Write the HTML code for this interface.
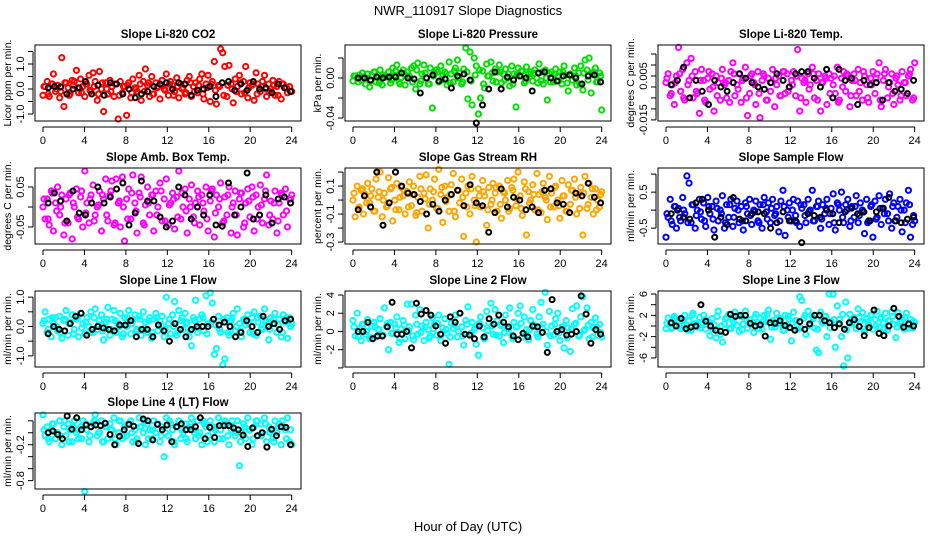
<!DOCTYPE html>
<html><head><meta charset="utf-8">
<style>
html,body{margin:0;padding:0;background:#fff;}
svg{display:block;font-family:"Liberation Sans",Arial,sans-serif;}
</style></head>
<body>
<svg id="fig" width="936" height="540" viewBox="0 0 936 540" xmlns="http://www.w3.org/2000/svg">
<rect width="936" height="540" fill="#fff"/>
<text x="468" y="15" text-anchor="middle" font-size="13">NWR_110917  Slope Diagnostics</text>
<text x="468" y="531" text-anchor="middle" font-size="13">Hour of Day (UTC)</text>
</svg>
<script>
const xTickVals=[0,4,8,12,16,20,24];

const co2Vals=[-0.25,0.1,0.3,-0.3,0.2,0.6,-0.1,0.15,-0.35,1.25,-0.7,0.25,0.05,-0.2,0.35,0.3,0.75,-0.15,0.4,0.1,-0.3,0.2,0.55,-0.1,0.65,0.3,-0.45,0.7,0.0,-0.9,0.25,-0.2,0.35,0.1,-0.3,0.2,-1.2,0.3,-0.15,0.1,-1.05,0.25,-0.35,0.4,0.05,-0.1,0.55,-0.45,0.3,0.8,0.15,-0.3,0.5,-0.2,0.25,0.1,-0.4,0.35,0.0,0.6,-0.25,0.3,0.15,-0.1,0.45,-0.35,0.2,0.05,-0.2,0.35,0.5,-0.3,0.1,0.25,-0.15,0.4,0.6,-0.4,0.2,0.55,-0.5,0.3,1.1,-0.6,0.15,1.6,1.45,0.9,-0.3,0.95,0.2,-0.55,0.4,0.1,0.55,-0.2,0.3,0.9,-0.35,0.25,0.15,-0.45,0.65,0.2,-0.1,0.3,0.55,-0.3,0.2,0.0,0.35,-0.25,0.1,0.3,-0.4,0.2,0.05,-0.15,0.1,-0.1];
const co2Core=[0.1,-0.2,0.2,0.0,-0.1,0.25,-0.25,0.15,0.05,-0.15,0.2,-0.05,0.1,-0.2,0.25,0.0,-0.1,0.2,-0.25,0.1,0.15,-0.15,0.0,0.2,-0.1,0.25,-0.2,0.05,0.15,-0.05,0.2,-0.25,0.1,0.0,-0.15,0.25,-0.1,0.15,-0.2,0.05,0.2,-0.05,0.1,-0.25,0.15,0.0,-0.1,0.25,-0.15,0.05,0.2,-0.2,0.1,0.0,-0.1,0.15,-0.25,0.2,0.05,-0.1];
const co2Black=[0.05,0.1,0.08,-0.2,0.0,0.05,0.3,-0.2,0.15,-0.25,0.25,0.2,-0.2,0.0,-0.35,-0.2,-0.1,0.1,0.2,0.25,0.0,0.25,0.2,-0.25,-0.05,0.0,0.1,-0.3,0.25,0.3,-0.05,0.2,-0.05,0.3,0.0,0.05,-0.15,0.2,0.05,-0.1];
const presVals=[-0.003,0.002,0.0,0.003,-0.002,0.001,-0.006,0.004,-0.009,0.002,0.006,-0.004,0.003,0.008,-0.007,0.002,0.001,0.006,-0.005,0.01,0.003,0.013,-0.004,0.0,0.008,-0.007,0.006,0.002,0.01,0.012,-0.011,0.015,-0.006,0.004,0.013,0.0,-0.006,0.01,-0.03,0.005,0.008,-0.004,0.012,0.003,0.006,-0.007,0.016,0.004,-0.004,0.01,0.018,0.005,-0.006,0.009,0.03,-0.021,0.026,-0.027,0.02,0.012,-0.036,-0.02,0.007,-0.01,0.014,0.002,0.016,-0.003,0.009,0.006,0.013,-0.005,0.004,0.009,0.0,-0.008,0.012,0.004,-0.029,0.01,0.002,0.007,-0.005,0.011,0.004,0.006,-0.003,0.008,0.0,0.014,-0.003,-0.006,0.008,-0.022,0.004,0.006,-0.004,0.009,0.002,0.006,-0.006,0.012,0.003,-0.013,0.004,-0.002,0.01,-0.007,0.005,0.012,-0.012,0.018,0.008,0.02,-0.015,0.006,0.01,-0.004,0.005,-0.032];
const presCore=[0.002,-0.004,0.005,0.0,-0.003,0.006,-0.005,0.003,0.001,-0.002,0.007,-0.006,0.004,0.0,-0.004,0.008,-0.003,0.005,-0.006,0.002,0.006,-0.002,0.004,-0.005,0.007,0.0,-0.004,0.006,-0.003,0.003,0.008,-0.006,0.002,0.005,-0.004,0.006,-0.002,0.004,-0.006,0.003,0.007,-0.003,0.001,0.005,-0.005,0.006,0.0,-0.004,0.004,-0.003,0.006,-0.005,0.003,0.002,-0.006,0.005,-0.002,0.004,-0.004,0.002];
const presBlack=[0.0,0.0,-0.002,0.001,0.0,0.001,0.001,0.005,0.0,-0.001,-0.015,0.0,0.003,-0.003,-0.001,-0.01,0.002,0.004,-0.002,-0.045,-0.027,-0.011,0.006,-0.011,0.001,-0.002,0.002,0.0,-0.013,0.005,0.006,0.0,-0.003,0.002,0.003,0.0,-0.006,0.002,0.003,-0.004];
const tempVals=[0.002,0.006,-0.004,0.001,-0.008,0.005,0.018,-0.002,0.008,-0.006,0.011,0.003,0.013,-0.005,0.007,-0.003,-0.012,0.008,0.003,-0.007,0.004,-0.001,0.006,-0.011,0.005,0.002,-0.006,0.008,0.001,-0.005,0.003,0.007,0.011,-0.004,0.001,0.006,-0.007,0.004,0.009,-0.013,-0.003,0.006,0.002,-0.008,0.007,-0.014,0.003,0.005,-0.006,0.004,-0.002,0.008,-0.009,0.001,0.005,-0.004,0.007,-0.003,0.006,0.0,0.003,0.007,-0.004,0.017,-0.011,0.004,0.002,-0.007,0.006,0.001,0.009,-0.005,0.003,0.006,-0.011,0.002,0.005,-0.008,0.006,0.004,0.001,-0.003,0.009,-0.006,0.004,0.007,-0.002,0.005,-0.009,0.003,0.006,-0.004,0.008,0.002,-0.006,0.005,0.001,-0.007,0.004,0.007,-0.003,0.006,0.011,-0.009,0.003,0.008,-0.005,0.002,0.006,-0.008,0.004,0.001,-0.006,0.007,0.002,-0.004,0.005,0.008,-0.006,0.011];
const tempCore=[0.004,-0.003,0.002,0.006,-0.005,0.001,0.005,-0.002,0.003,-0.006,0.007,0.0,-0.004,0.004,0.002,-0.007,0.006,-0.001,0.003,-0.005,0.005,0.001,-0.003,0.006,-0.006,0.002,0.004,-0.004,0.007,-0.002,0.001,0.005,-0.005,0.003,-0.001,0.006,-0.006,0.002,0.004,-0.003,0.005,-0.007,0.0,0.006,-0.004,0.003,-0.002,0.007,-0.005,0.001,0.004,-0.006,0.006,0.0,-0.003,0.005,-0.004,0.002,0.006,-0.005];
const tempBlack=[0.001,0.003,0.009,-0.005,0.003,-0.002,-0.008,0.003,0.0,-0.002,0.002,0.006,0.004,0.002,0.0,-0.001,0.002,0.006,0.003,0.0,0.006,0.007,0.007,0.004,0.0,0.008,-0.005,0.008,0.003,0.004,-0.008,0.003,0.001,0.002,-0.006,0.002,-0.002,-0.001,-0.003,0.003];
const ambVals=[0.0,-0.03,0.02,-0.045,0.04,-0.06,0.01,0.05,-0.02,0.03,-0.07,0.02,-0.04,0.035,-0.08,0.0,0.045,-0.03,0.025,-0.05,0.09,0.01,-0.04,0.03,0.055,-0.02,0.0,0.04,-0.06,0.02,0.07,-0.035,0.03,0.065,-0.045,0.07,0.01,-0.05,0.075,-0.085,0.02,0.045,-0.03,0.08,0.01,-0.065,0.035,0.075,-0.04,0.005,0.05,-0.02,0.03,-0.06,0.04,0.0,0.06,-0.035,0.02,0.07,-0.045,0.01,0.035,-0.055,0.025,0.09,-0.03,0.0,0.045,-0.065,0.02,0.055,-0.025,0.01,0.04,-0.045,0.03,-0.01,0.05,-0.06,0.015,0.045,-0.075,0.03,0.0,0.06,-0.04,0.025,-0.02,0.05,-0.065,0.01,0.04,-0.07,0.02,0.035,-0.05,0.01,0.045,-0.025,0.05,-0.06,0.03,0.0,0.055,-0.04,0.02,0.08,-0.045,0.015,-0.03,0.04,-0.065,0.01,0.035,-0.02,0.045,-0.05,0.02,0.03];
const ambCore=[0.02,-0.03,0.035,-0.01,0.0,-0.04,0.03,0.01,-0.025,0.04,-0.015,0.02,-0.035,0.005,0.03,-0.02,0.04,-0.04,0.015,0.0,-0.03,0.035,-0.01,0.025,-0.045,0.01,0.03,-0.02,0.04,-0.035,0.005,0.02,-0.025,0.035,-0.01,0.0,-0.04,0.025,0.01,-0.03,0.04,-0.015,0.02,-0.035,0.03,0.0,-0.02,0.035,-0.04,0.015,0.025,-0.03,0.005,0.04,-0.02,0.01,-0.035,0.03,-0.01,0.02];
const ambBlack=[0.01,0.035,0.015,-0.035,0.04,-0.015,-0.02,0.01,0.05,0.01,0.025,0.045,0.06,-0.045,-0.015,0.065,0.015,0.015,-0.025,-0.05,-0.035,0.05,0.03,-0.03,0.0,-0.02,0.03,-0.045,-0.048,0.06,-0.02,0.0,0.085,-0.03,-0.02,0.03,-0.04,0.02,0.025,0.01];
const rhVals=[0.0,-0.12,0.1,-0.05,0.07,-0.1,0.04,0.12,-0.02,0.08,-0.08,0.15,0.02,0.2,-0.12,0.05,-0.05,0.16,0.08,-0.15,0.0,0.12,-0.07,0.09,0.03,-0.1,0.06,0.13,-0.04,0.1,-0.11,0.02,0.17,-0.08,0.05,0.18,-0.2,0.08,0.0,0.15,-0.06,0.22,0.04,-0.16,0.1,0.02,-0.08,0.11,0.19,-0.12,0.07,-0.02,0.15,-0.26,0.05,0.1,-0.1,0.17,0.0,-0.3,0.08,-0.05,0.14,0.03,-0.18,0.09,-0.03,0.12,0.05,-0.08,0.1,-0.13,0.06,0.0,0.14,-0.06,0.09,0.15,-0.04,0.2,0.03,-0.11,0.13,-0.25,0.06,0.0,0.11,-0.07,0.19,0.04,-0.09,0.12,0.02,-0.14,0.17,0.05,-0.05,0.1,0.0,-0.13,0.14,0.03,-0.08,0.11,-0.03,0.07,0.15,-0.1,0.04,0.09,-0.25,0.17,-0.06,0.12,0.02,-0.1,0.08,0.0,-0.05,0.06];
const rhCore=[0.05,-0.06,0.08,-0.02,0.03,-0.08,0.06,0.0,-0.04,0.09,-0.07,0.02,0.07,-0.05,0.04,-0.09,0.08,0.01,-0.03,0.06,-0.06,0.09,-0.01,0.04,-0.08,0.07,0.02,-0.05,0.08,-0.04,0.03,0.06,-0.07,0.0,0.09,-0.03,0.05,-0.08,0.07,0.01,-0.06,0.08,-0.02,0.04,-0.07,0.06,0.0,-0.05,0.09,-0.04,0.03,-0.08,0.07,0.02,-0.06,0.05,-0.03,0.08,-0.07,0.04];
const rhBlack=[-0.07,0.03,-0.05,0.2,-0.18,-0.02,0.2,0.1,0.05,0.04,-0.01,-0.1,-0.03,-0.08,0.0,0.04,0.07,-0.04,0.11,-0.02,-0.04,-0.23,-0.09,0.08,-0.05,0.02,0.0,-0.07,-0.05,-0.09,0.07,0.08,-0.02,-0.03,-0.09,0.05,0.03,0.12,0.02,-0.02];
const sampVals=[-0.75,-0.2,0.3,-0.4,0.1,-0.5,0.05,-0.3,0.35,-0.1,0.95,0.75,-0.35,0.15,-0.5,0.0,0.3,-0.25,0.2,-0.45,0.35,-0.1,0.1,-0.55,0.25,-0.3,0.0,0.4,-0.5,0.15,-0.2,0.3,-0.45,0.05,0.25,-0.35,0.1,-0.55,0.2,-0.1,0.3,-0.4,0.0,0.25,-0.3,0.15,-0.5,0.35,-0.05,0.2,-0.35,0.3,-0.15,0.1,-0.6,0.25,0.55,-0.7,0.0,0.2,-0.3,0.3,-0.15,0.25,-0.45,0.05,0.15,-0.35,0.3,0.0,0.55,-0.3,0.1,0.25,-0.5,0.15,-0.1,0.3,-0.4,0.05,0.45,-0.55,0.2,0.0,0.5,-0.35,0.15,0.3,-0.45,0.1,-0.2,0.4,-0.35,0.2,0.0,-0.65,0.3,-0.3,0.1,-0.75,0.25,-0.2,0.4,-0.4,0.05,0.3,-0.1,0.45,-0.5,0.2,-0.3,0.1,0.3,-0.6,0.0,0.2,0.55,-0.75,-0.4,-0.3];
const sampCore=[-0.1,-0.3,0.1,-0.2,0.0,-0.35,0.15,-0.15,-0.05,-0.3,0.1,-0.25,0.05,-0.1,-0.35,0.15,-0.2,0.0,-0.3,0.1,-0.15,-0.05,-0.35,0.15,-0.25,0.05,-0.1,-0.3,0.1,-0.2,0.0,-0.35,0.15,-0.15,-0.05,-0.3,0.1,-0.25,0.05,-0.1,-0.35,0.15,-0.2,0.0,-0.3,0.1,-0.15,-0.05,-0.35,0.15,-0.25,0.05,-0.1,-0.3,0.1,-0.2,0.0,-0.35,0.15,-0.15];
const sampBlack=[-0.1,0.0,-0.2,-0.25,0.2,0.3,0.0,-0.75,-0.2,-0.4,0.35,-0.25,-0.3,-0.1,-0.05,-0.1,-0.5,-0.35,-0.05,-0.3,-0.3,-0.9,-0.1,-0.15,-0.2,0.0,-0.1,-0.35,-0.05,0.05,-0.1,-0.05,-0.3,-0.05,0.05,0.35,-0.3,-0.35,-0.25,-0.2];
const l1Vals=[0.1,0.5,-0.2,0.25,-0.35,0.1,0.3,-0.15,0.35,-0.4,0.2,0.55,-0.3,0.15,0.4,-0.1,0.25,-0.35,0.45,0.1,-0.25,0.3,0.0,0.5,-0.2,0.6,-0.1,0.2,0.4,-0.45,0.15,0.65,-0.3,0.25,0.55,-0.2,0.1,0.45,-0.35,0.3,0.0,0.55,-0.25,0.2,0.4,-0.1,0.35,-0.3,0.5,0.15,-0.2,0.3,-0.4,0.25,0.45,-0.15,0.2,0.35,-0.35,1.0,0.1,-0.25,0.4,0.85,-0.3,0.55,0.2,-0.1,0.45,0.15,-0.35,-0.65,0.3,0.9,-0.2,0.25,0.4,-0.15,1.05,0.1,1.15,0.8,-0.95,-0.75,0.35,-0.2,-1.3,-1.1,0.3,-0.3,0.2,0.45,-0.15,0.6,0.1,-0.35,0.25,0.05,0.4,-0.2,0.3,0.5,-0.3,0.15,0.35,-0.1,0.6,0.2,-0.45,0.3,0.1,0.45,-0.2,0.25,-0.35,0.4,0.15,-0.4,0.3,0.1];
const l1Core=[0.2,-0.1,0.3,0.0,-0.2,0.25,0.1,-0.25,0.3,-0.05,0.15,-0.2,0.3,0.05,-0.15,0.25,-0.1,0.2,0.0,-0.25,0.3,0.1,-0.15,0.25,-0.05,0.2,-0.2,0.3,0.05,-0.1,0.25,0.0,-0.2,0.3,0.1,-0.15,0.2,-0.05,0.3,-0.25,0.15,0.05,-0.1,0.25,-0.2,0.3,0.0,-0.15,0.2,0.1,-0.25,0.3,-0.05,0.15,-0.1,0.25,0.05,-0.2,0.3,0.0];
const l1Black=[-0.25,0.0,-0.1,-0.15,0.1,0.35,0.45,-0.3,-0.1,0.0,-0.05,-0.1,-0.15,0.05,0.05,0.2,-0.35,-0.1,-0.1,-0.35,0.05,-0.15,-0.5,0.1,-0.1,-0.35,-0.1,0.0,0.0,0.0,0.25,0.05,0.15,0.0,-0.35,-0.2,0.2,0.0,-0.2,0.35,0.0,0.1,-0.1,0.2,0.25];
const l2Vals=[1.2,-0.5,2.0,0.3,-1.0,0.8,-0.3,1.3,-0.8,0.5,1.0,-0.6,0.2,1.4,-0.4,2.6,0.6,-2.0,1.0,-0.2,0.8,1.6,-1.2,0.3,1.2,-0.8,3.0,0.5,3.0,-0.9,1.8,-0.3,2.4,0.6,-1.0,1.0,0.2,-0.5,1.5,0.8,-0.4,1.8,-1.0,0.4,1.4,-0.2,-3.6,0.9,0.3,1.8,-0.6,2.0,0.5,-1.5,1.2,2.7,-0.4,1.0,0.2,-1.4,-2.6,1.6,0.4,-0.8,2.2,0.9,3.1,-0.3,2.4,1.2,-0.5,0.6,-1.2,1.8,0.3,2.6,-0.4,1.0,0.5,2.0,2.8,-0.6,1.6,0.2,-0.9,1.2,2.4,0.5,-0.3,1.6,3.2,0.8,4.3,-1.5,2.2,0.6,-0.4,1.4,2.0,-1.0,0.5,-1.8,1.2,0.4,-2.2,2.5,0.8,2.8,-0.5,1.6,3.8,0.2,2.6,-0.8,1.0,0.4,1.5,-0.4,0.8,-0.6];
const l2Core=[0.5,-0.5,0.8,0.0,-0.7,0.6,0.2,-0.4,0.9,-0.2,0.4,-0.8,0.7,0.1,-0.5,0.8,-0.1,0.5,-0.7,0.3,0.9,-0.3,0.2,-0.6,0.7,0.0,-0.5,0.8,-0.2,0.4,0.9,-0.7,0.1,0.6,-0.4,0.8,-0.1,0.3,-0.8,0.5,0.9,-0.3,0.2,0.7,-0.6,0.4,0.0,-0.5,0.8,-0.2,0.6,-0.7,0.3,0.9,-0.4,0.1,0.7,-0.6,0.5,-0.1];
const l2Black=[0.0,0.0,1.0,-0.8,-0.5,-0.5,0.5,3.2,-0.3,-0.3,0.0,-1.8,3.1,1.9,2.3,1.8,0.6,-0.3,-1.3,1.6,1.0,2.0,-0.3,-0.4,-0.8,0.6,-0.6,1.4,0.8,1.8,1.0,0.5,-0.5,-0.9,-0.2,-0.6,0.6,0.5,-0.1,-2.3,3.5,0.0,0.2,-0.4,-0.3,0.0,3.9,1.9,-1.3,0.2,-0.3];
const l3Vals=[-0.5,1.5,0.5,-0.3,1.8,0.2,0.8,-0.5,1.2,2.0,0.0,1.0,-0.8,2.4,0.5,-0.2,1.6,0.3,2.0,-0.6,1.0,-1.8,1.4,0.2,-2.2,2.8,-1.6,-3.0,0.4,1.6,2.2,-0.5,1.0,2.6,0.1,-1.0,1.8,0.4,2.8,-0.4,1.2,0.3,-1.2,2.2,0.6,1.5,-0.6,2.0,0.8,3.0,-2.5,1.0,-0.2,2.4,0.5,1.4,-0.8,2.0,0.2,1.2,-2.8,2.6,1.0,-0.6,5.5,4.8,1.5,-1.6,2.8,0.3,1.8,-0.4,-4.5,-5.0,2.6,0.5,1.8,-2.0,6.0,0.8,6.0,-4.0,3.8,1.2,-2.0,-7.5,4.5,-6.0,2.2,0.5,1.6,-0.5,3.2,0.8,2.5,-1.0,1.4,0.2,2.0,-0.6,1.2,2.8,-0.2,1.6,0.6,2.4,-0.8,1.0,2.6,0.3,-2.2,2.5,0.8,1.4,-0.6,2.4,0.2,1.2,-0.4,0.6];
const l3Core=[0.5,-0.5,1.5,0.0,1.0,-0.8,2.0,0.3,-0.3,1.2,0.8,-0.6,1.8,0.0,1.4,-0.4,0.6,2.0,-0.7,1.0,0.2,1.6,-0.5,0.9,2.2,-0.2,1.2,0.4,-0.8,1.8,0.6,1.0,-0.4,2.0,0.1,1.4,-0.6,0.8,1.8,-0.3,1.2,0.5,2.2,-0.7,1.0,0.3,1.6,-0.5,0.8,2.0,0.0,1.4,-0.6,1.0,1.8,-0.2,0.6,1.6,-0.4,0.9];
const l3Black=[0.6,0.0,1.4,-0.5,-0.2,0.0,4.0,0.9,0.0,-0.8,-1.0,-1.2,2.2,1.8,2.0,2.0,0.5,0.0,0.2,-1.9,0.6,0.5,1.0,0.1,-0.3,-0.8,0.8,-0.6,0.4,2.0,2.0,1.0,0.6,-0.3,0.4,-0.6,0.6,1.2,-0.1,-1.8,-0.3,3.0,-1.4,-1.8,0.0,3.3,1.8,-0.2,0.4,0.0];
const l4Vals=[0.3,-0.05,0.1,-0.15,0.05,0.15,-0.1,0.0,0.2,-0.2,0.1,-0.05,0.15,0.05,-0.15,0.2,0.0,-0.1,0.1,0.2,-0.98,0.05,-0.15,0.1,0.15,0.3,-0.05,0.0,0.2,-0.15,0.1,-0.1,0.15,0.05,0.25,-0.2,0.0,0.2,-0.1,0.1,-0.05,0.15,0.2,-0.15,0.05,-0.1,0.25,0.1,0.0,-0.2,0.15,0.05,-0.1,0.2,0.0,0.15,-0.15,0.1,-0.4,0.25,-0.05,0.15,0.05,-0.2,0.1,0.2,-0.1,0.0,0.15,-0.15,0.1,0.25,0.05,-0.1,0.2,0.0,-0.2,0.15,0.1,-0.05,0.2,0.0,-0.15,0.1,0.25,0.05,-0.1,0.2,0.15,-0.2,0.05,0.1,-0.05,0.2,-0.55,0.0,0.15,-0.1,0.25,0.05,-0.2,0.1,0.2,-0.05,0.15,0.0,0.25,-0.15,0.1,0.05,-0.1,0.2,0.0,0.15,-0.2,0.1,0.05,0.25,-0.15,-0.2];
const l4Core=[0.05,-0.1,0.15,0.0,-0.05,0.2,-0.15,0.1,0.05,-0.1,0.15,-0.05,0.2,0.0,-0.15,0.1,0.05,-0.1,0.2,-0.05,0.15,0.0,-0.15,0.1,0.2,-0.1,0.05,0.15,-0.05,0.0,0.2,-0.15,0.1,0.05,-0.1,0.15,0.0,-0.05,0.2,-0.15,0.1,0.05,-0.1,0.15,-0.05,0.2,0.0,-0.15,0.1,0.05,-0.1,0.2,-0.05,0.15,0.0,-0.15,0.1,0.2,-0.1,0.05];
const l4Black=[0.0,0.03,-0.03,-0.1,0.28,0.06,0.25,0.05,0.13,0.1,0.13,0.12,0.16,-0.03,-0.2,-0.06,0.05,0.14,0.11,-0.18,0.23,0.2,-0.12,0.14,0.05,0.13,-0.15,0.1,0.15,0.05,0.05,0.1,0.25,-0.1,0.09,-0.08,0.12,0.12,0.12,0.08,0.05,-0.04,-0.23,0.08,-0.05,0.0,-0.24,0.06,-0.05,0.1,0.09,-0.2];

const panels=[
 {name:'co2',title:'Slope Li-820 CO2',yl:'Licor ppm per min.',col:'#ff0000',c:0,r:0,ymin:-1.28,ymax:1.76,ticks:[-1,-0.5,0,0.5,1,1.5],labels:{'-1':'-1.0','0':'0.0','1':'1.0'},v:co2Vals,k:co2Core,b:co2Black},
 {name:'pressure',title:'Slope Li-820 Pressure',yl:'kPa per min.',col:'#00dd00',c:1,r:0,ymin:-0.043,ymax:0.033,ticks:[-0.04,-0.02,0,0.02],labels:{'-0.04':'-0.04','0':'0.00'},v:presVals,k:presCore,b:presBlack},
 {name:'licor-temp',title:'Slope Li-820 Temp.',yl:'degrees C per min.',col:'#ff00ff',c:2,r:0,ymin:-0.0155,ymax:0.0191,ticks:[-0.015,-0.01,-0.005,0,0.005,0.01,0.015],labels:{'-0.015':'-0.015','0.005':'0.005'},v:tempVals,k:tempCore,b:tempBlack},
 {name:'amb-box-temp',title:'Slope Amb. Box Temp.',yl:'degrees C per min.',col:'#ff00ff',c:0,r:1,ymin:-0.0925,ymax:0.0975,ticks:[-0.05,0,0.05],labels:{'-0.05':'-0.05','0.05':'0.05'},v:ambVals,k:ambCore,b:ambBlack},
 {name:'gas-stream-rh',title:'Slope Gas Stream RH',yl:'percent per min.',col:'#ffa500',c:1,r:1,ymin:-0.314,ymax:0.229,ticks:[-0.3,-0.2,-0.1,0,0.1,0.2],labels:{'-0.3':'-0.3','-0.1':'-0.1','0.1':'0.1'},v:rhVals,k:rhCore,b:rhBlack},
 {name:'sample-flow',title:'Slope Sample Flow',yl:'ml/min per min.',col:'#0000ff',c:2,r:1,ymin:-0.94,ymax:1.17,ticks:[-0.5,0,0.5,1],labels:{'-0.5':'-0.5','0.5':'0.5'},v:sampVals,k:sampCore,b:sampBlack},
 {name:'line1-flow',title:'Slope Line 1 Flow',yl:'ml/min per min.',col:'#00ffff',c:0,r:2,ymin:-1.38,ymax:1.21,ticks:[-1,-0.5,0,0.5,1],labels:{'-1':'-1.0','0':'0.0','1':'1.0'},v:l1Vals,k:l1Core,b:l1Black},
 {name:'line2-flow',title:'Slope Line 2 Flow',yl:'ml/min per min.',col:'#00ffff',c:1,r:2,ymin:-3.9,ymax:4.44,ticks:[-4,-2,0,2,4],labels:{'-2':'-2','0':'0','2':'2','4':'4'},v:l2Vals,k:l2Core,b:l2Black},
 {name:'line3-flow',title:'Slope Line 3 Flow',yl:'ml/min per min.',col:'#00ffff',c:2,r:2,ymin:-7.7,ymax:6.57,ticks:[-6,-4,-2,0,2,4,6],labels:{'-6':'-6','-2':'-2','2':'2','6':'6'},v:l3Vals,k:l3Core,b:l3Black},
 {name:'line4-flow',title:'Slope Line 4 (LT) Flow',yl:'ml/min per min.',col:'#00ffff',c:0,r:3,ymin:-0.94,ymax:0.33,ticks:[-0.8,-0.6,-0.4,-0.2,0,0.2],labels:{'-0.8':'-0.8','-0.2':'-0.2'},v:l4Vals,k:l4Core,b:l4Black}
];
const colX=[35,345,658], rowY=[45,168,291,413], W=266, H=76;
const svg=document.getElementById('fig');
const NS='http://www.w3.org/2000/svg';
function mk(tag,attrs,parent){const e=document.createElementNS(NS,tag);for(const k in attrs)e.setAttribute(k,attrs[k]);parent.appendChild(e);return e;}
panels.forEach(p=>{
  const x0=colX[p.c], y0=rowY[p.r];
  const g=mk('g',{},svg);
  
  
  const sx=h=>x0+(h+0.77)/25.67*W;
  const sy=v=>y0+H-(v-p.ymin)/(p.ymax-p.ymin)*H;
  const t=mk('text',{x:x0+W/2,y:y0-7,'text-anchor':'middle','font-size':11.5,'font-weight':'bold'},g);
  t.textContent=p.title;
  
  
  const yl=mk('text',{x:0,y:0,'text-anchor':'middle','font-size':10.5,transform:`translate(${x0-24},${y0+H/2}) rotate(-90)`},g);
  yl.textContent=p.yl;
  
  
  const pts=mk('g',{fill:'none','stroke-width':2},g);
  
  
  p.k.forEach((v,i)=>{
    const h=0.1+i*23.8/(p.k.length-1);
    const c=mk('circle',{cx:sx(h).toFixed(1),cy:sy(v).toFixed(1),r:2.6,stroke:p.col},pts);
    
    
  });
  p.v.forEach((v,i)=>{
    const h=i*24/(p.v.length-1);
    const c=mk('circle',{cx:sx(h).toFixed(1),cy:sy(v).toFixed(1),r:2.6,stroke:p.col},pts);
    
    
  });
  const bk=mk('g',{fill:'none','stroke-width':2,stroke:'#000'},g);
  
  
  p.b.forEach((v,i)=>{
    const h=0.5+i*23.4/(p.b.length-1);
    const c=mk('circle',{cx:sx(h).toFixed(1),cy:sy(v).toFixed(1),r:2.5},bk);
    
    
  });
  const bx=mk('rect',{x:x0,y:y0,width:W,height:H,fill:'none',stroke:'#000','stroke-width':1},g);
  
  
  const xa=mk('g',{stroke:'#000','stroke-width':1},g);
  
  
  const ay=y0+H+6;
  mk('line',{x1:sx(0),x2:sx(24),y1:ay,y2:ay},xa);
  xTickVals.forEach(h=>{
    mk('line',{x1:sx(h),x2:sx(h),y1:ay,y2:ay+5},xa);
    const tl=mk('text',{x:sx(h),y:ay+17,'text-anchor':'middle','font-size':11,stroke:'none',fill:'#000'},xa);
    tl.textContent=h;
    
    
  });
  const ya=mk('g',{stroke:'#000','stroke-width':1},g);
  
  
  const ax=x0-2;
  mk('line',{x1:ax,x2:ax,y1:sy(p.ticks[0]),y2:sy(p.ticks[p.ticks.length-1])},ya);
  p.ticks.forEach(v=>{
    mk('line',{x1:ax-5,x2:ax,y1:sy(v),y2:sy(v)},ya);
    const lab=p.labels[String(v)];
    if(lab!==undefined){
      const tl=mk('text',{x:0,y:0,'text-anchor':'middle','font-size':11,stroke:'none',fill:'#000',transform:`translate(${ax-9},${sy(v)}) rotate(-90)`},ya);
      tl.textContent=lab;
      
      
    }
  });
});
</script>
</body></html>
